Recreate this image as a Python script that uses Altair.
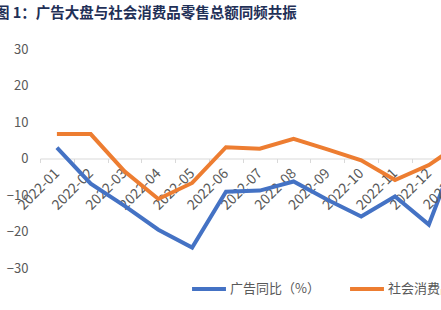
import altair as alt
import pandas as pd

months = ["2022-01", "2022-02", "2022-03", "2022-04", "2022-05", "2022-06",
          "2022-07", "2022-08", "2022-09", "2022-10", "2022-11", "2022-12", "2023-01"]
ad_yoy = [3.0, -6.9, -13.0, -19.5, -24.4, -9.1, -8.8, -6.3, -11.3, -15.9, -10.4, -18.1, 6.0]
retail_yoy = [6.7, 6.7, -3.5, -11.1, -6.7, 3.1, 2.7, 5.4, 2.5, -0.5, -5.9, -1.8, 4.5]
series_names = ["广告同比（%）", "社会消费品零售总额同比（%）"]
colors = ["#4472C4", "#ED7D31"]
title_text = "图 1：广告大盘与社会消费品零售总额同频共振"
y_ticks = [-30, -20, -10, 0, 10, 20, 30]

rows = []
for i, m in enumerate(months):
    rows.append({"idx": i, "month": m, "series": series_names[0], "value": ad_yoy[i]})
    rows.append({"idx": i, "month": m, "series": series_names[1], "value": retail_yoy[i]})
df = pd.DataFrame(rows)
lab_df = pd.DataFrame({"idx": [len(months) - 1], "month": [months[-1]], "value": [0]})

FONT = "Noto Sans CJK SC"
GRAY = "#595959"
n_visible = 11.86
x_domain = [-0.5, -0.5 + n_visible]
label_js = "[" + ",".join("'" + m + "'" for m in months) + "]"
x_values = [i * 0.5 - 0.5 for i in range(0, 25)]

x_axis = alt.Axis(
    values=x_values,
    labelExpr=f"datum.value % 1 === 0 ? {label_js}[datum.value] : ''",
    labelAngle=-45, labelAlign="right", labelBaseline="middle",
    labelFontSize=14, labelColor=GRAY, labelFont=FONT, labelPadding=8.5,
    labelOverlap=False, labelFlush=False, labelBound=False,
    domainColor="#d9d9d9", domainWidth=1,
    tickColor={"condition": {"test": "datum.value % 1 !== 0", "value": "#d9d9d9"}, "value": "transparent"},
    tickSize=4, grid=False, title=None, offset=-109.5,
)
y_axis = alt.Axis(values=y_ticks, domain=False, ticks=False, grid=False, labelOverlap=False,
                  labelFontSize=13, labelColor=GRAY, labelFont=FONT, labelPadding=12, title=None)

x_scale = alt.Scale(domain=x_domain, nice=False, zero=False)
y_scale = alt.Scale(domain=[-30, 30], nice=False)

lines = alt.Chart(df).mark_line(strokeWidth=4, clip=True).encode(
    x=alt.X("idx:Q", scale=x_scale, axis=x_axis),
    y=alt.Y("value:Q", scale=y_scale, axis=y_axis),
    color=alt.Color("series:N", sort=series_names,
                    scale=alt.Scale(domain=series_names, range=colors),
                    legend=alt.Legend(orient="none", legendX=150, legendY=221, direction="horizontal",
                                      title=None, symbolType="stroke", symbolStrokeWidth=4,
                                      symbolSize=1150, labelFontSize=13, labelColor=GRAY,
                                      labelFont=FONT, labelLimit=400, columnPadding=22,
                                      labelOffset=2)),
    order="idx:Q",
)

edge_label = alt.Chart(lab_df).mark_text(angle=315, align="right", baseline="middle",
                                         fontSize=14, font=FONT, color=GRAY,
                                         dx=-8.8, dy=8.8).encode(
    x=alt.X("idx:Q", scale=x_scale, axis=None),
    y=alt.Y("value:Q", scale=y_scale, axis=None),
    text="month:N")

chart = alt.layer(lines, edge_label).resolve_axis(x="independent", y="independent").properties(
    width=401, height=219,
    padding={"left": 40, "right": 0, "top": 49, "bottom": 42},
    autosize=alt.AutoSizeParams(type="none"),
    title=alt.TitleParams(title_text, anchor="start", frame="group", dx=-45, offset=22,
                          fontSize=14.5, fontWeight="bold", color="#1f3057", font=FONT),
).configure_view(stroke=None)

chart.save("out.html", embed_options={"renderer": "svg", "actions": False})
